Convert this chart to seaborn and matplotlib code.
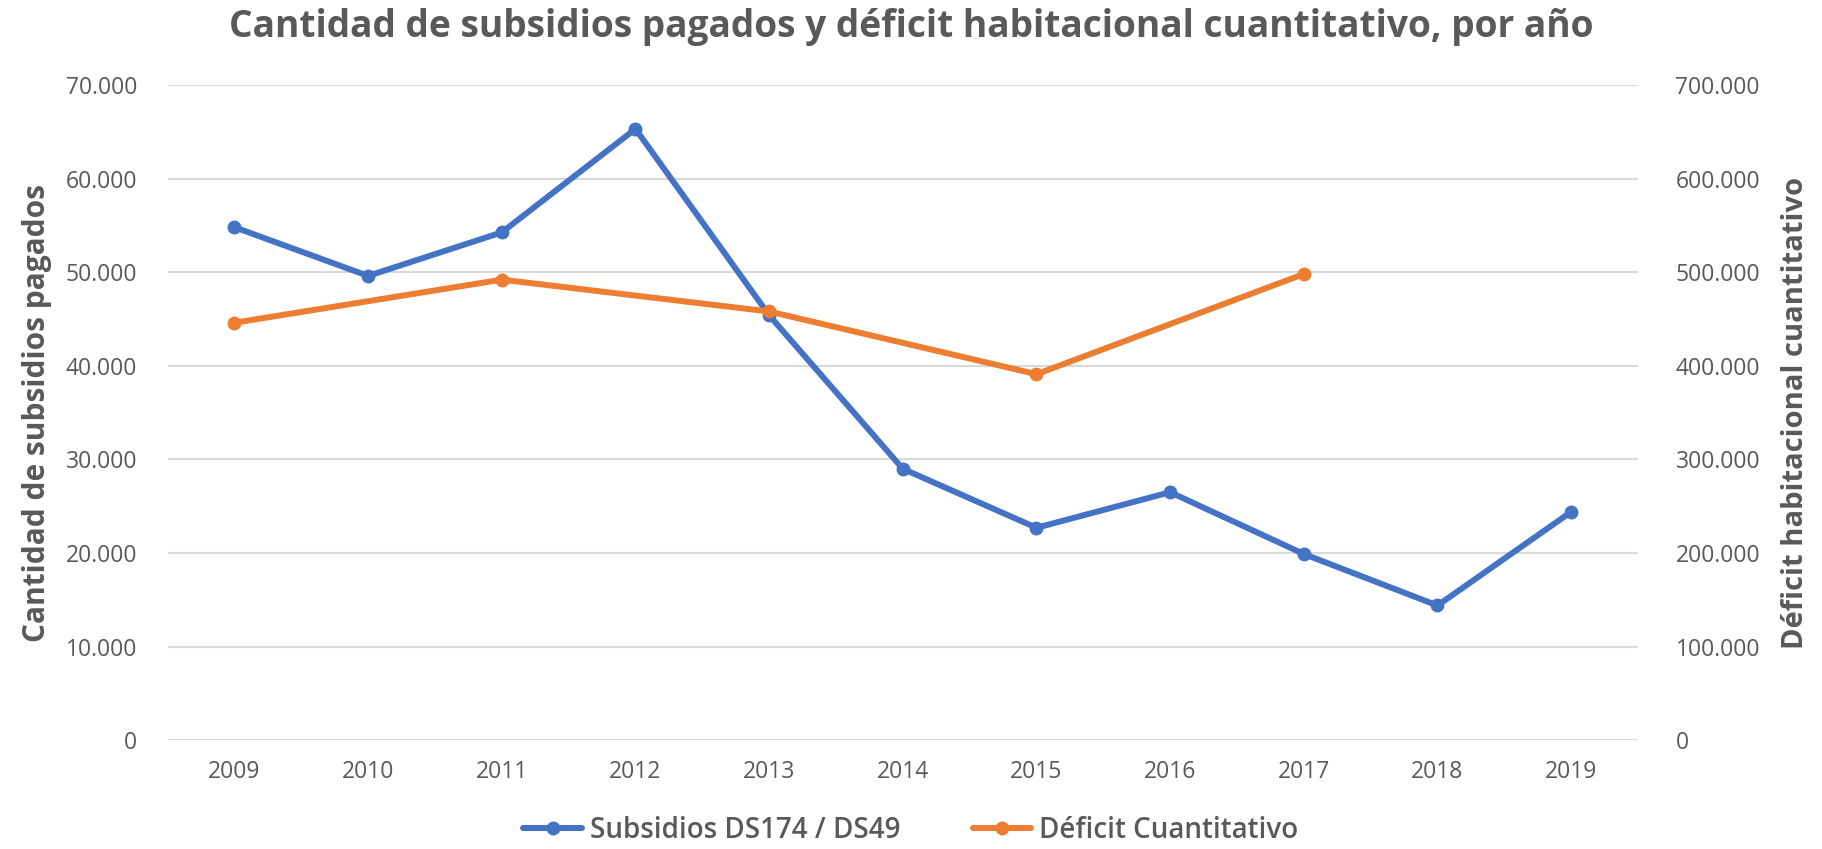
import numpy as np
import pandas as pd
import matplotlib
matplotlib.use("Agg")
import matplotlib.pyplot as plt
import seaborn as sns
from matplotlib.ticker import FuncFormatter, MultipleLocator
from matplotlib.lines import Line2D

# data
years = [2009, 2010, 2011, 2012, 2013, 2014, 2015, 2016, 2017, 2018, 2019]
subsidios = [54800, 49600, 54250, 65300, 45400, 29000, 22700, 26500, 19900, 14400, 24400]
deficit = [446000, np.nan, 492000, np.nan, 458000, np.nan, 391000, np.nan, 498000, np.nan, np.nan]

title = "Cantidad de subsidios pagados y déficit habitacional cuantitativo, por año"
ylabel_left = "Cantidad de subsidios pagados"
ylabel_right = "Déficit habitacional cuantitativo"
label_sub = "Subsidios DS174 / DS49"
label_def = "Déficit Cuantitativo"

BLUE = "#4472C4"
ORANGE = "#ED7D31"
GRAY = "#595959"
GRID = "#D9D9D9"

sns.set_theme(style="white")
plt.rcParams["font.family"] = ["Open Sans", "DejaVu Sans"]

df = pd.DataFrame({"year": years, "subsidios": subsidios, "deficit": deficit})
df_def = df.dropna(subset=["deficit"])  # Excel connects across the gaps


def thousands(v, pos):
    return f"{v:,.0f}".replace(",", ".")


fig = plt.figure(figsize=(18.22, 8.49), dpi=100)
ax = fig.add_axes([0.092, 0.128, 0.807, 0.772])
ax2 = ax.twinx()

sns.lineplot(data=df, x="year", y="subsidios", ax=ax, color=BLUE, linewidth=4.3,
             marker="o", markersize=10, markeredgewidth=0, zorder=3)
sns.lineplot(data=df_def, x="year", y="deficit", ax=ax2, color=ORANGE, linewidth=4.3,
             marker="o", markersize=10, markeredgewidth=0, zorder=3)

ax.set_xlim(2008.5, 2019.5)
ax.set_ylim(0, 70000)
ax2.set_ylim(0, 700000)
ax.yaxis.set_major_locator(MultipleLocator(10000))
ax2.yaxis.set_major_locator(MultipleLocator(100000))
ax.yaxis.set_major_formatter(FuncFormatter(thousands))
ax2.yaxis.set_major_formatter(FuncFormatter(thousands))
ax.set_xticks(years)
ax.set_xticklabels([str(y) for y in years])

ax.grid(axis="y", color=GRID, linewidth=1.5)
ax.set_axisbelow(True)
for a in (ax, ax2):
    for s in a.spines.values():
        s.set_visible(False)
    a.tick_params(length=0, labelsize=16.5, colors=GRAY)
ax.tick_params(axis="y", pad=22)
ax2.tick_params(axis="y", which="both", pad=27)
ax.tick_params(axis="x", pad=14)

ax.set_xlabel("")
ax.set_ylabel(ylabel_left, fontsize=21.5, fontweight="bold", color=GRAY, labelpad=10)
ax2.set_ylabel(ylabel_right, fontsize=21, fontweight="bold", color=GRAY, rotation=90,
               labelpad=15)
ax2.yaxis.set_label_position("right")

fig.suptitle(title, x=0.5, y=0.99, fontsize=26.7, fontweight="bold", color=GRAY)

handles = [
    Line2D([], [], color=BLUE, linewidth=4.3, marker="o", markersize=10, markeredgewidth=0),
    Line2D([], [], color=ORANGE, linewidth=4.3, marker="o", markersize=10, markeredgewidth=0),
]
leg = fig.legend(handles, [label_sub, label_def], loc="center", bbox_to_anchor=(0.5, 0.022),
                 ncol=2, frameon=False, handlelength=2.1, handletextpad=0.3,
                 columnspacing=2.6, prop={"size": 20, "weight": "semibold"})
for t in leg.get_texts():
    t.set_color(GRAY)

fig.savefig("out.png", dpi=100)
